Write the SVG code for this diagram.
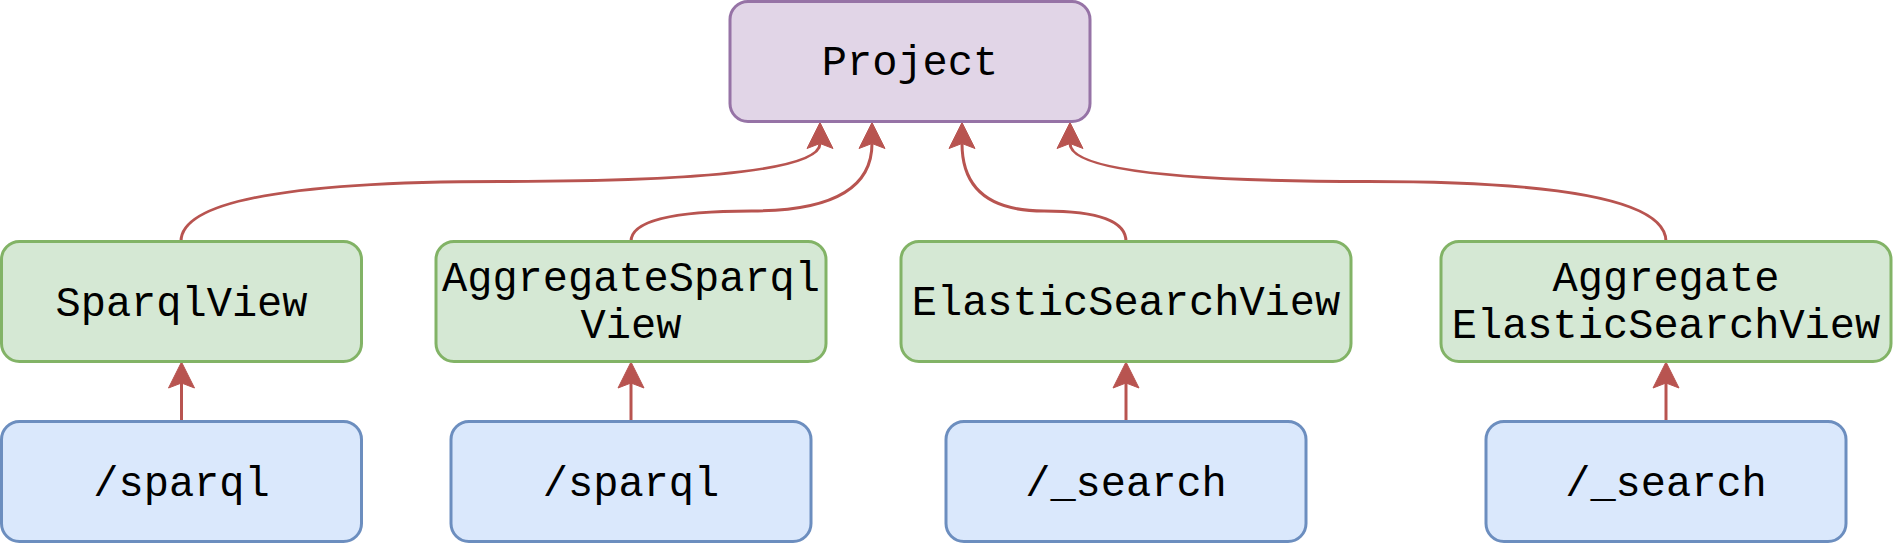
<svg xmlns="http://www.w3.org/2000/svg" width="1893" height="543" viewBox="0 0 1893 543">
<style>
.box{stroke-width:3}
.purple{fill:#e1d5e7;stroke:#9673a6}
.green{fill:#d5e8d4;stroke:#82b366}
.blue{fill:#dae8fc;stroke:#6c8ebf}
.lbl{font-family:"Liberation Mono","Courier New",monospace;font-size:42px;fill:#000;text-anchor:middle}
.edge{fill:none;stroke:#b85450;stroke-width:3;marker-end:url(#arrow)}
</style>
<defs>
<marker id="arrow" markerUnits="userSpaceOnUse" viewBox="-6 -14 28 28" markerWidth="28" markerHeight="28" refX="0" refY="0" orient="auto" overflow="visible">
<path d="M21,0 L-5,-13 L0,0 L-5,13 Z" fill="#b85450" stroke="#b85450" stroke-width="1"/>
</marker>
</defs>
<rect width="1893" height="543" fill="#ffffff"/>
<g id="connectors">
<path class="edge" d="M181,241.5 Q181,181.5 500.5,181.5 Q820,181.5 820,143.5"/>
<path class="edge" d="M631,241.5 Q631,211 751.5,211 Q872,211 872,143.5"/>
<path class="edge" d="M1126,241.5 Q1126,211 1044,211 Q962,211 962,143.5"/>
<path class="edge" d="M1666,241.5 Q1666,181.5 1368,181.5 Q1070,181.5 1070,143.5"/>
<path class="edge" d="M181.5,421.5 L181.5,383"/>
<path class="edge" d="M631,421.5 L631,383"/>
<path class="edge" d="M1126,421.5 L1126,383"/>
<path class="edge" d="M1666,421.5 L1666,383"/>
</g>
<g id="project">
<rect class="box purple" x="730" y="1.5" width="360" height="120" rx="18" ry="18"/>
<text class="lbl" x="910" y="75">Project</text>
</g>
<g id="sparqlview">
<rect class="box green" x="1.5" y="241.5" width="360" height="120" rx="18" ry="18"/>
<text class="lbl" x="181.5" y="315.5">SparqlView</text>
</g>
<g id="aggregatesparqlview">
<rect class="box green" x="436" y="241.5" width="390" height="120" rx="18" ry="18"/>
<text class="lbl" x="631" y="291">AggregateSparql</text>
<text class="lbl" x="631" y="338">View</text>
</g>
<g id="elasticsearchview">
<rect class="box green" x="901" y="241.5" width="450" height="120" rx="18" ry="18"/>
<text class="lbl" x="1126" y="315">ElasticSearchView</text>
</g>
<g id="aggregateelasticsearchview">
<rect class="box green" x="1441" y="241.5" width="450" height="120" rx="18" ry="18"/>
<text class="lbl" x="1666" y="291">Aggregate</text>
<text class="lbl" x="1666" y="338">ElasticSearchView</text>
</g>
<g id="sparql1">
<rect class="box blue" x="1.5" y="421.5" width="360" height="120" rx="18" ry="18"/>
<text class="lbl" x="181.5" y="495.5">/sparql</text>
</g>
<g id="sparql2">
<rect class="box blue" x="451" y="421.5" width="360" height="120" rx="18" ry="18"/>
<text class="lbl" x="631" y="495.5">/sparql</text>
</g>
<g id="search1">
<rect class="box blue" x="946" y="421.5" width="360" height="120" rx="18" ry="18"/>
<text class="lbl" x="1126" y="495.5">/_search</text>
</g>
<g id="search2">
<rect class="box blue" x="1486" y="421.5" width="360" height="120" rx="18" ry="18"/>
<text class="lbl" x="1666" y="495.5">/_search</text>
</g>
</svg>
